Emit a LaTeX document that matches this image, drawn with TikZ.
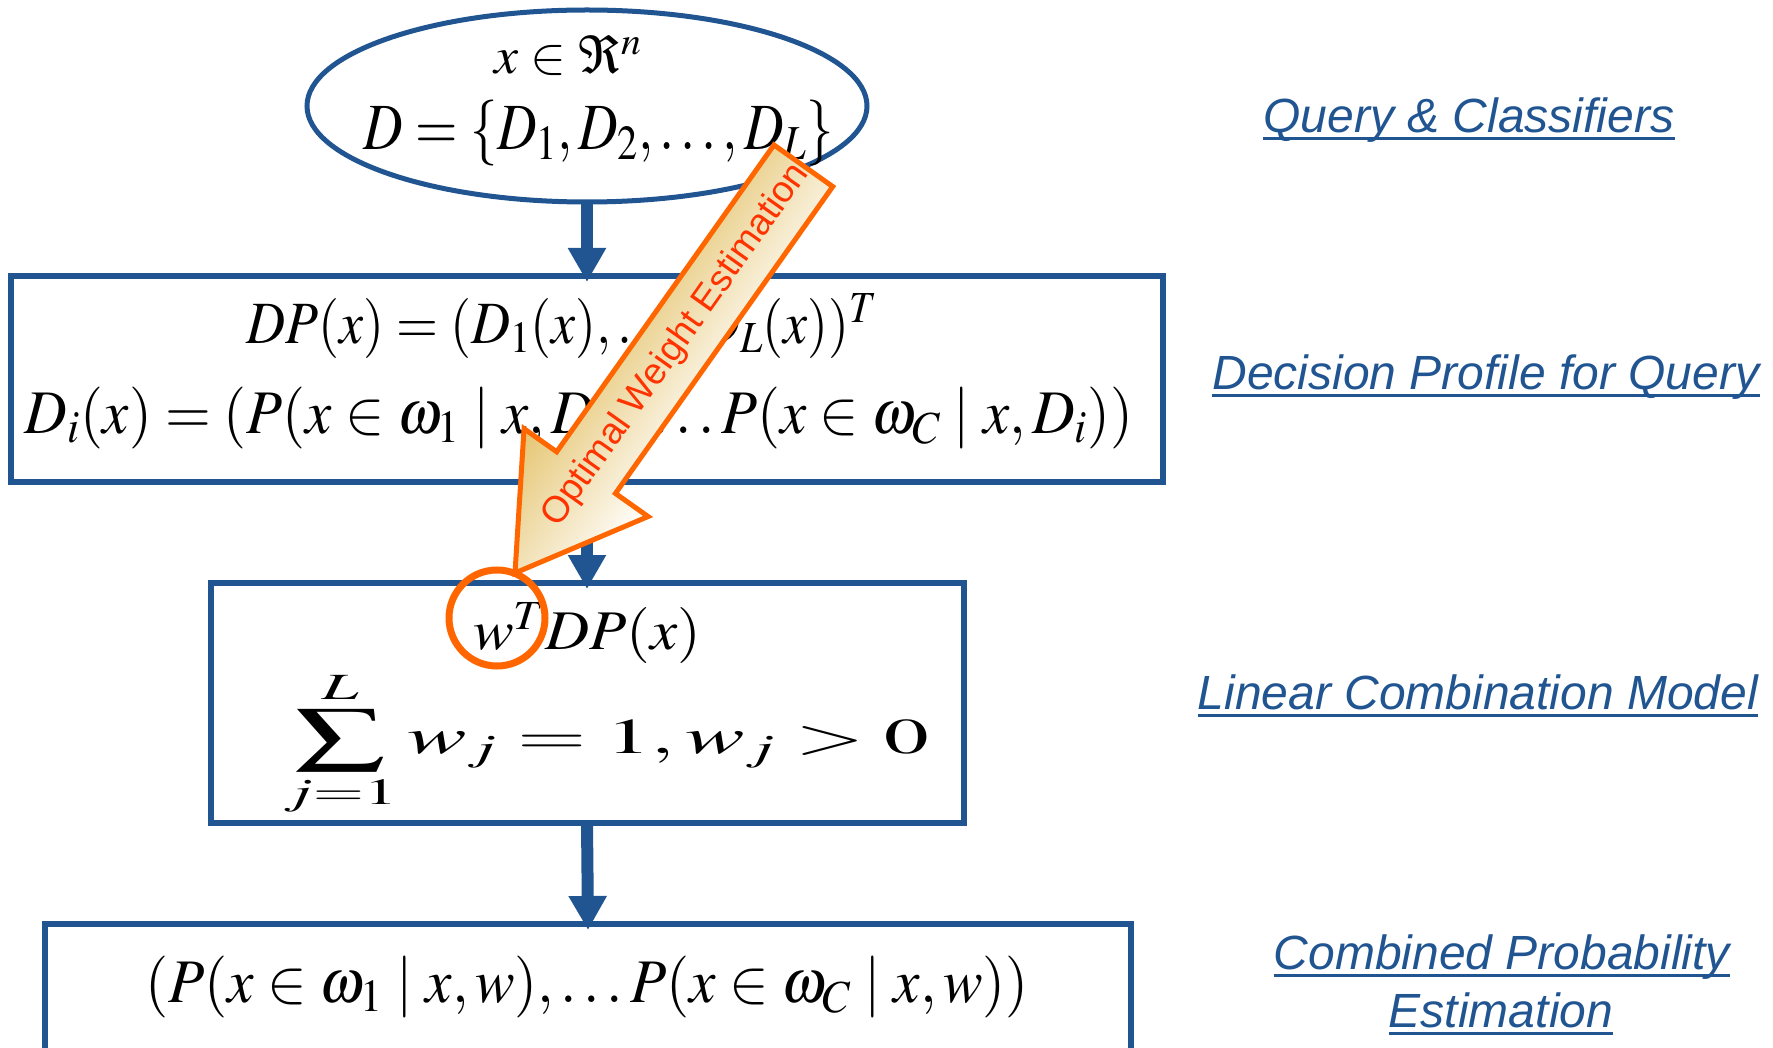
\documentclass[tikz,border=0pt]{standalone}
\usepackage{mathptmx}
\usepackage{graphicx}
\usepackage[no-math]{fontspec}
\newfontfamily\labelfont{Liberation Sans}
\usetikzlibrary{arrows.meta,shapes.geometric}

\definecolor{flowblue}{RGB}{33,85,145}
\definecolor{hiorange}{RGB}{255,102,0}
\definecolor{hitext}{RGB}{255,51,0}
\definecolor{hitan}{RGB}{229,197,113}

% formula at a given font size, stretched to a given width
\newcommand{\eqn}[3]{{\fontsize{#1}{#1}\selectfont\resizebox{#2pt}{\height}{$#3$}}}

\begin{document}
\begin{tikzpicture}[x=1pt,y=-1pt,
  stage/.style={draw=flowblue, line width=6pt, inner sep=0pt, outer sep=0pt},
  flow/.style={draw=flowblue, line width=12pt,
    -{Triangle[width=36pt,length=34pt]}, shorten >=-6pt},
  formula/.style={inner sep=0pt, text=black},
  lbl/.style={font=\labelfont\itshape\fontsize{48}{48}\selectfont,
    text=flowblue, inner sep=0pt, anchor=base},
  uline/.style={draw=flowblue, line width=3pt}]

\useasboundingbox (0,0) rectangle (1773,1048);
\clip (0,0) rectangle (1773,1048);

% ---- stages ----
\node[stage, ellipse, line width=5pt, minimum width=560pt, minimum height=192pt]
  (query) at (587,106) {};
\node[stage, minimum width=1152pt, minimum height=206pt] (profile) at (587,379) {};
\node[stage, minimum width=753pt, minimum height=240pt] (linear) at (587,703) {};
\node[stage, minimum width=1086pt, minimum height=220pt] (combined) at (588,1034) {};

% ---- formulas ----
\node[formula] (f1) at (568,55) {\eqn{52}{147}{x\in\Re^{n}}};
\node[formula] (f2) at (599,133) {\eqn{66}{470}{D=\{D_1,D_2,\ldots,D_L\}}};
\node[formula] (f3) at (562,326) {\eqn{60}{631}{DP(x)=(D_1(x),\ldots,D_L(x))^{T}}};
\node[formula] (f4) at (579,418)
  {\eqn{62}{1108}{D_i(x)=(P(x\in\omega_1\mid x,D_i),\ldots P(x\in\omega_C\mid x,D_i))}};
\node[formula] (f5) at (587,633) {\eqn{56}{228}{w^{T}DP(x)}};
\node[formula] (f6) at (606,744)
  {\eqn{50}{646}{\displaystyle\sum_{j=1}^{L} w_j=1,w_j>0}};
\node[formula] (f7) at (587,987)
  {\eqn{62}{884}{(P(x\in\omega_1\mid x,w),\ldots P(x\in\omega_C\mid x,w))}};

% ---- flow arrows ----
\draw[flow] (query.south) -- (profile.north);
\draw[flow] (profile.south) -- (linear.north);
\draw[flow] (linear.south) -- (combined.north);

% ---- stage labels ----
\node[lbl] (l1) at (1469,133) {Query \& Classifiers};
\node[lbl] (l2) at (1486,390) {Decision Profile for Query};
\node[lbl] (l3) at (1478,709) {Linear Combination Model};
\node[lbl] (l4) at (1502,969) {Combined Probability};
\node[lbl] (l5) at (1501,1027) {Estimation};
\foreach \l in {l1,l2,l3,l4,l5}
  \draw[uline] ([yshift=-6pt]\l.base west) -- ([yshift=-6pt]\l.base east);

% ---- weight estimation block arrow ----
\begin{scope}[transform canvas={shift={(515,573)}, rotate=54.7}]
  \path[draw=hiorange, line width=5pt, line join=miter,
        top color=hitan, bottom color=white]
    (0,0) -- (123,-76) -- (123,-36) -- (499,-36) -- (499,36)
    -- (123,36) -- (123,76) -- cycle;
  \node[text=hitext, font=\labelfont\fontsize{37}{37}\selectfont, inner sep=0pt]
    (owe) at (279,0) {Optimal Weight Estimation};
\end{scope}

% ---- highlighted weight ----
\node[draw=hiorange, line width=7pt, circle, minimum size=96pt, inner sep=0pt]
  (wmark) at (497,618) {};

\end{tikzpicture}
\end{document}
